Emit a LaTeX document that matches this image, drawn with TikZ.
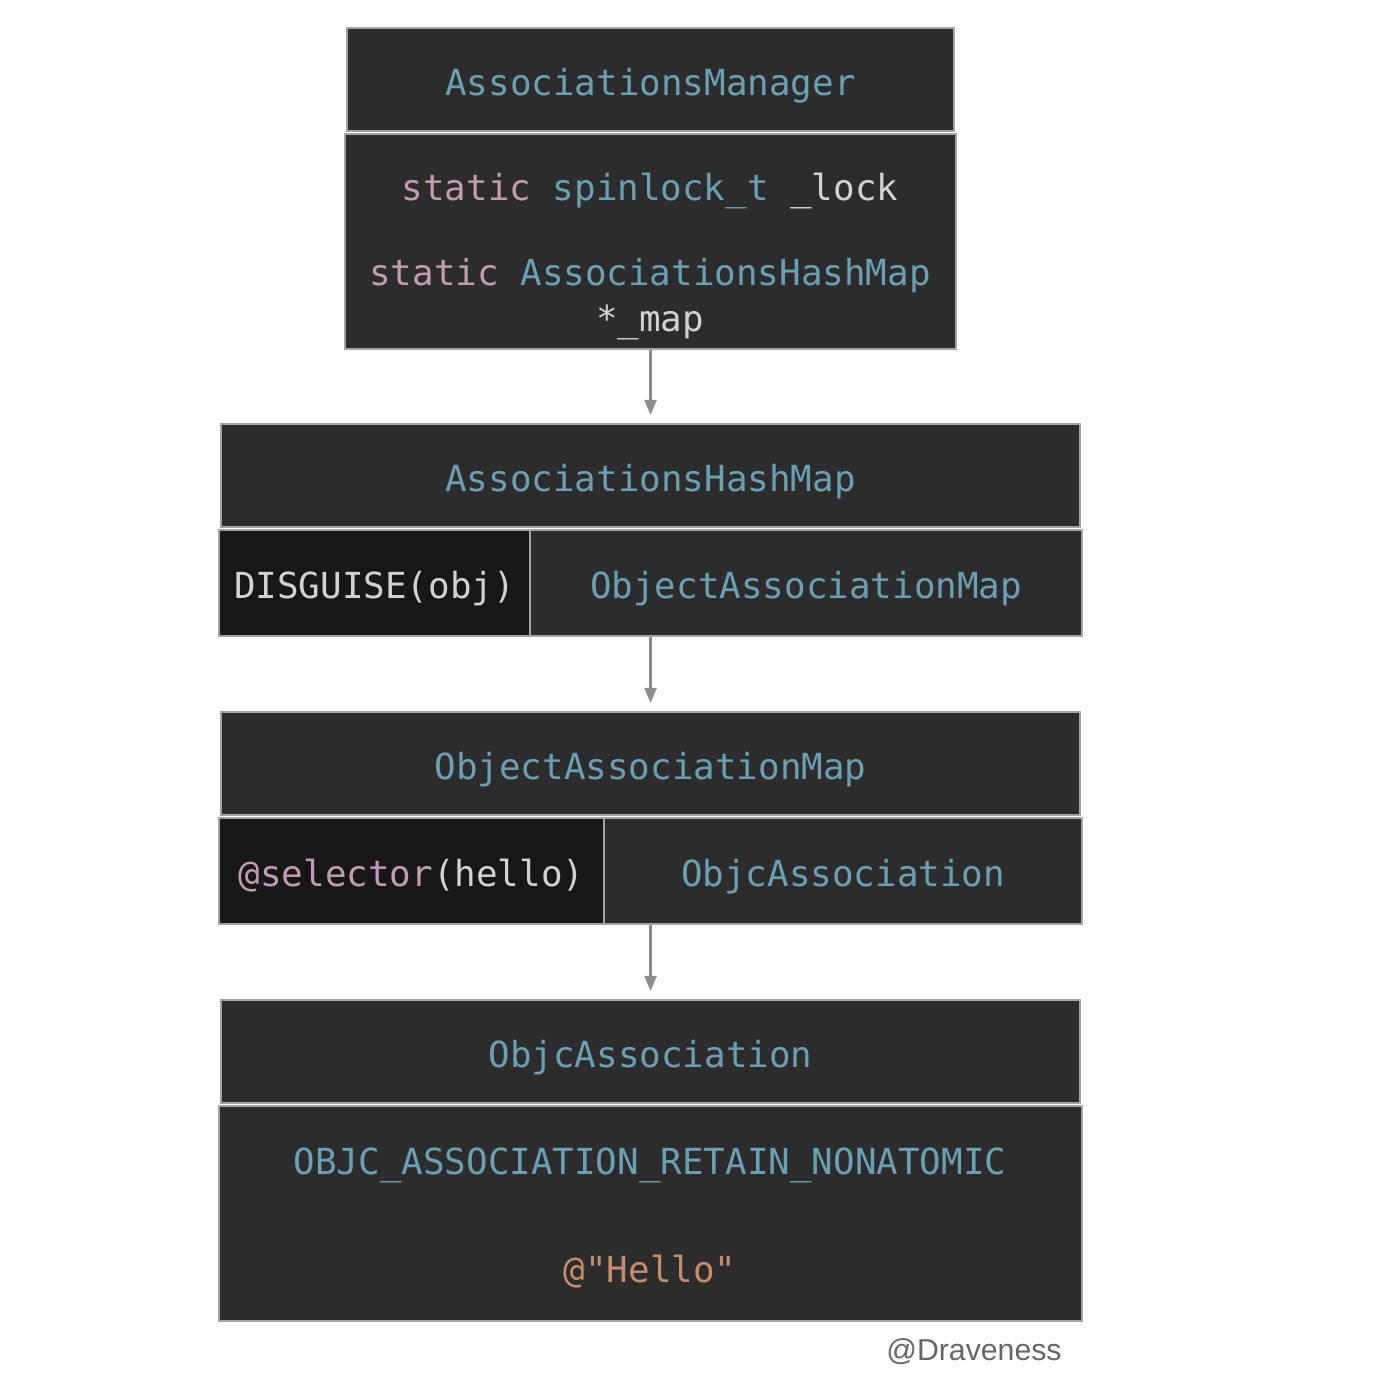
\documentclass[tikz,border=0pt]{standalone}
\usepackage{fontspec}
\setmonofont{DejaVu Sans Mono}
\setsansfont{Liberation Sans}
\usetikzlibrary{arrows.meta}
\definecolor{panel}{HTML}{2C2C2C}
\definecolor{keycell}{HTML}{171717}
\definecolor{edge}{HTML}{A4A4A4}
\definecolor{typ}{HTML}{6BA0B4}
\definecolor{kwd}{HTML}{C29CB2}
\definecolor{txt}{HTML}{D2D2D2}
\definecolor{strg}{HTML}{C68C6E}
\definecolor{linkgray}{HTML}{8C8C8C}
\definecolor{siggray}{HTML}{666666}
\newcommand{\codefont}{\ttfamily\fontsize{10.2}{12}\selectfont}
\newcommand{\kw}[1]{{\color{kwd}#1}}
\newcommand{\ty}[1]{{\color{typ}#1}}
% box from (x1,y1) to (x2,y2), pixel units
\newcommand{\cellat}[7]{\node[cell,#1,minimum width=(#5-#3)*0.01cm,minimum height=(#6-#4)*0.01cm] (#2) at (#3,#4) {#7};}
\tikzset{
  cell/.style={rectangle, draw=edge, line width=0.6pt, fill=panel, inner sep=0pt, anchor=north west, font=\codefont, text=typ, text height=9pt, text depth=0pt},
  keybox/.style={fill=keycell, text=txt},
  code/.style={font=\codefont, text=txt, anchor=base, inner sep=0pt},
  link/.style={draw=linkgray, line width=0.7pt, -{Triangle[length=0.15cm,width=0.12cm]}, shorten >=0.08cm}
}
\begin{document}
\begin{tikzpicture}[x=0.01cm,y=-0.01cm]
        \useasboundingbox (0,0) rectangle (1372,1376);
        % manager
        \cellat{}{mgr}{346}{27}{953}{130}{AssociationsManager};
        \cellat{}{mgrbody}{344}{133}{955}{348}{};
        \node[code] (lockline) at (650,201) {\kw{static} \ty{spinlock\_t} \_lock};
        \node[code] (mapline) at (650,285) {\kw{static} \ty{AssociationsHashMap}};
        \node[code] (mapname) at (650,331) {*\_map};
        % hash map
        \cellat{}{hmap}{220}{423}{1079}{526}{AssociationsHashMap};
        \cellat{keybox}{hkey}{218}{529}{529}{635}{DISGUISE(obj)};
        \cellat{}{hval}{529}{529}{1081}{635}{ObjectAssociationMap};
        % object association map
        \cellat{}{omap}{220}{711}{1079}{814}{ObjectAssociationMap};
        \cellat{keybox}{okey}{218}{817}{603}{923}{\kw{@selector}(hello)};
        \cellat{}{oval}{603}{817}{1081}{923}{ObjcAssociation};
        % association
        \cellat{}{assoc}{220}{999}{1079}{1102}{ObjcAssociation};
        \cellat{}{assocbody}{218}{1105}{1081}{1320}{};
        \node[code,text=typ] (policy) at (650,1174) {OBJC\_ASSOCIATION\_RETAIN\_NONATOMIC};
        \node[code,text=strg] (value) at (650,1282) {@"Hello"};
        \node[font=\sffamily\fontsize{8.6}{10}\selectfont, text=siggray] (sig) at (974,1352) {@Draveness};
        % links
        \draw[link] (mgrbody.south) -- (hmap.north);
        \draw[link] (hval.south -| hmap.south) -- (omap.north);
        \draw[link] (oval.south -| omap.south) -- (assoc.north);
\end{tikzpicture}
\end{document}
